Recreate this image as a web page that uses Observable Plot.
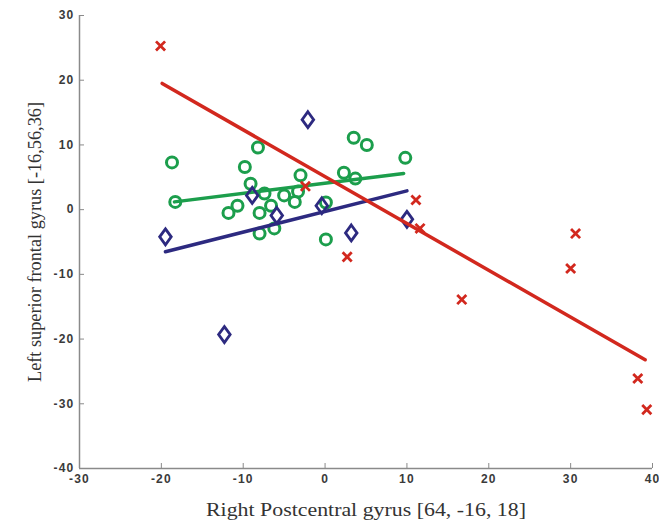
<!DOCTYPE html>
<html><head><meta charset="utf-8">
<script src="https://cdn.jsdelivr.net/npm/d3@7"></script>
<script src="https://cdn.jsdelivr.net/npm/@observablehq/plot@0.6"></script>
<style>body{margin:0;background:#fff}</style>
</head><body><div id="chart"></div>
<script>
// Red group (crosses)
const redX = [-20.1, -2.4, 2.7, 11.1, 11.6, 16.7, 30.0, 30.6, 38.2, 39.3];
const redY = [25.3, 3.6, -7.3, 1.5, -2.9, -13.9, -9.1, -3.7, -26.1, -30.9];
const redFitX = [-19.9, 39.1];
const redFitY = [19.5, -23.2];
// Blue group (diamonds)
const blueX = [-19.5, -12.3, -8.9, -5.9, -0.4, 3.2, 10.0, -2.1];
const blueY = [-4.2, -19.3, 2.2, -0.9, 0.6, -3.6, -1.5, 13.9];
const blueFitX = [-19.5, 10.0];
const blueFitY = [-6.5, 2.9];
// Green group (circles)
const greenX = [-18.7, -18.3, -8.2, -9.8, -9.1, -11.8, -10.7, -8.0, -7.4, -6.6, -5.0, -3.7, -3.0, -3.3, -8.0, -6.2, 0.1, 0.1, 2.3, 3.7, 3.5, 5.1, 9.8];
const greenY = [7.3, 1.2, 9.6, 6.6, 4.0, -0.5, 0.6, -0.5, 2.5, 0.6, 2.2, 1.2, 5.3, 2.8, -3.7, -2.9, 1.1, -4.6, 5.7, 4.8, 11.1, 10.0, 8.0];
const greenFitX = [-18.4, 9.6];
const greenFitY = [1.2, 5.6];

const xTicks = [-30, -20, -10, 0, 10, 20, 30, 40];
const yTicks = [-40, -30, -20, -10, 0, 10, 20, 30];
const xLabel = "Right Postcentral gyrus [64, -16, 18]";
const yLabel = "Left superior frontal gyrus [-16,56,36]";

const RED = "#d2281e", BLUE = "#2d2a80", GREEN = "#1c9e4c";

const pts = (xs, ys) => xs.map((x, i) => ({x, y: ys[i]}));
const red = pts(redX, redY), blue = pts(blueX, blueY), green = pts(greenX, greenY);
const redFit = pts(redFitX, redFitY), blueFit = pts(blueFitX, blueFitY), greenFit = pts(greenFitX, greenFitY);

const tallDiamond = {
  draw(context, size) {
    const r = Math.sqrt(size / Math.PI);
    const w = r * 1.05, h = r * 1.45;
    context.moveTo(0, -h);
    context.lineTo(w, 0);
    context.lineTo(0, h);
    context.lineTo(-w, 0);
    context.closePath();
  }
};

const tickFont = {fontSize: 12, fontWeight: "bold", fontFamily: "Liberation Sans, Arial, sans-serif", fill: "#3a3a3a"};
const serif = "Liberation Serif, Times New Roman, serif";

const chart = Plot.plot({
  width: 659,
  height: 525,
  marginLeft: 79,
  marginRight: 7,
  marginTop: 15,
  marginBottom: 57,
  x: {domain: [-30, 40]},
  y: {domain: [-40, 30]},
  style: {background: "#fff"},
  marks: [
    Plot.ruleX([-30], {stroke: "#8a8a8a", strokeWidth: 1.5}),
    Plot.ruleY([-40], {stroke: "#8a8a8a", strokeWidth: 1.5}),
    Plot.axisX({ticks: xTicks, tickFormat: d => String(d), tickSize: -5, tickPadding: 11, stroke: "#8a8a8a", label: null, ...tickFont}),
    Plot.axisY({ticks: yTicks, tickFormat: d => String(d), tickSize: -5, tickPadding: 10, stroke: "#8a8a8a", label: null, ...tickFont}),
    Plot.dot(green, {x: "x", y: "y", r: 5.5, stroke: GREEN, strokeWidth: 3, fill: "none"}),
    Plot.line(greenFit, {x: "x", y: "y", stroke: GREEN, strokeWidth: 3.5}),
    Plot.dot(blue, {x: "x", y: "y", r: 5.5, symbol: tallDiamond, stroke: BLUE, strokeWidth: 2.8, fill: "none"}),
    Plot.line(blueFit, {x: "x", y: "y", stroke: BLUE, strokeWidth: 3.5}),
    Plot.dot(red, {x: "x", y: "y", r: 4.2, symbol: "times", stroke: RED, strokeWidth: 2.8}),
    Plot.line(redFit, {x: "x", y: "y", stroke: RED, strokeWidth: 3.5}),
    Plot.text([xLabel], {text: d => d, frameAnchor: "bottom", lineAnchor: "middle", textAnchor: "middle", dy: 42, fontSize: 18, fontFamily: serif, fill: "#333"}),
    Plot.text([yLabel], {text: d => d, frameAnchor: "left", lineAnchor: "middle", textAnchor: "middle", rotate: -90, dx: -44, fontSize: 18, fontFamily: serif, fill: "#333"})
  ]
});
// stretch axis-title text to the reference's widths; widen tick labels
const tickStrings = new Set([...xTicks, ...yTicks].map(String));
for (const t of chart.querySelectorAll("text")) {
  const s = t.textContent;
  if (s === xLabel) { t.setAttribute("textLength", 320); t.setAttribute("lengthAdjust", "spacingAndGlyphs"); }
  else if (s === yLabel) { t.setAttribute("textLength", 280); t.setAttribute("lengthAdjust", "spacingAndGlyphs"); }
  else if (tickStrings.has(s)) { t.setAttribute("letter-spacing", "1.2"); }
}
document.getElementById("chart").appendChild(chart);
</script>
</body></html>
